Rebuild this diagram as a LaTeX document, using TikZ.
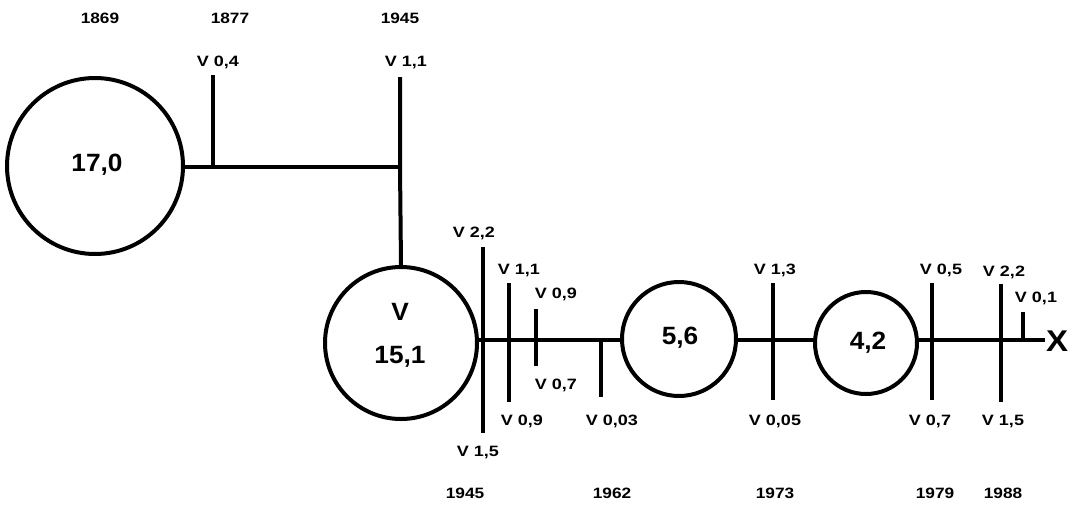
\documentclass[tikz,border=0pt]{standalone}
\usepackage{fontspec}
\setmainfont{Liberation Sans}
\begin{document}
\begin{tikzpicture}[x=1pt,y=-1pt,
  ln/.style={line width=4pt},
  circ/.style={circle,draw,line width=4pt,inner sep=0pt},
  yr/.style={font=\fontsize{15}{15}\selectfont\bfseries,xscale=1.15},
  lab/.style={font=\fontsize{15}{15}\selectfont\bfseries,xscale=1.2},
  big/.style={font=\fontsize{25}{25}\selectfont\bfseries,xscale=1.05}]
\useasboundingbox (0,0) rectangle (1079,517);
% circles
\node[circ,minimum size=176pt] (c1) at (95,166) {};
\node[big] (t1) at (97,165) {17,0};
\node[circ,minimum size=152pt] (c2) at (401,343) {};
\node[big] (t2a) at (400,312) {V};
\node[big] (t2b) at (400,357) {15,1};
\node[circ,minimum size=114pt] (c3) at (679,339) {};
\node[big] (t3) at (680,338) {5,6};
\node[circ,minimum size=102pt] (c4) at (866,343) {};
\node[big] (t4) at (868,343) {4,2};
\node[font=\fontsize{30}{30}\selectfont\bfseries,xscale=1.1] (x) at (1057,341) {X};
% coordinates
\coordinate (j1) at (213,167);
\coordinate (j2) at (400,167);
\coordinate (a1) at (213,75);
\coordinate (a2) at (400,77);
\coordinate (m1) at (483,340);
\coordinate (m2) at (509,340);
\coordinate (m3) at (536,340);
\coordinate (m4) at (601,340);
\coordinate (m5) at (773,340);
\coordinate (m6) at (932,340);
\coordinate (m7) at (1001,340);
\coordinate (m8) at (1023,340);
\coordinate (m9) at (1045,340);
% top tree
\draw[ln] (c1.east |- j1) -- (j1) -- (j2);
\draw[ln] (a1) -- (j1);
\draw[ln] (a2) -- (j2) -- (c2.north);
% main line
\draw[ln] (c2.east |- m1) -- (m1) -- (m4) -- (c3.west |- m4);
\draw[ln] (c3.east |- m5) -- (m5) -- (c4.west |- m5);
\draw[ln] (c4.east |- m6) -- (m6) -- (m9);
% ticks
\draw[ln] (483,247) -- (m1) -- (483,433);
\draw[ln] (509,283) -- (m2) -- (509,402);
\draw[ln] (536,309) -- (m3) -- (536,366);
\draw[ln] (m4) -- (601,397);
\draw[ln] (773,283) -- (m5) -- (773,400);
\draw[ln] (932,283) -- (m6) -- (932,400);
\draw[ln] (1001,284) -- (m7) -- (1001,402);
\draw[ln] (1023,312) -- (m8);
% years
\node[yr] (y1) at (100,18) {1869};
\node[yr] (y2) at (230,18) {1877};
\node[yr] (y3) at (400,18) {1945};
\node[yr] (y4) at (465,493) {1945};
\node[yr] (y5) at (612,493) {1962};
\node[yr] (y6) at (775,493) {1973};
\node[yr] (y7) at (935,493) {1979};
\node[yr] (y8) at (1003,493) {1988};
% labels
\node[lab] (l1) at (218,62) {V 0,4};
\node[lab] (l2) at (406,62) {V 1,1};
\node[lab] (l3) at (474,233) {V 2,2};
\node[lab] (l4) at (478,452) {V 1,5};
\node[lab] (l5) at (519,270) {V 1,1};
\node[lab] (l6) at (556,294) {V 0,9};
\node[lab] (l7) at (556,385) {V 0,7};
\node[lab] (l8) at (522,421) {V 0,9};
\node[lab] (l9) at (612,421) {V 0,03};
\node[lab] (l10) at (775,270) {V 1,3};
\node[lab] (l11) at (775,421) {V 0,05};
\node[lab] (l12) at (941,270) {V 0,5};
\node[lab] (l13) at (930,421) {V 0,7};
\node[lab] (l14) at (1004,272) {V 2,2};
\node[lab] (l15) at (1036,298) {V 0,1};
\node[lab] (l16) at (1003,421) {V 1,5};
\end{tikzpicture}
\end{document}
